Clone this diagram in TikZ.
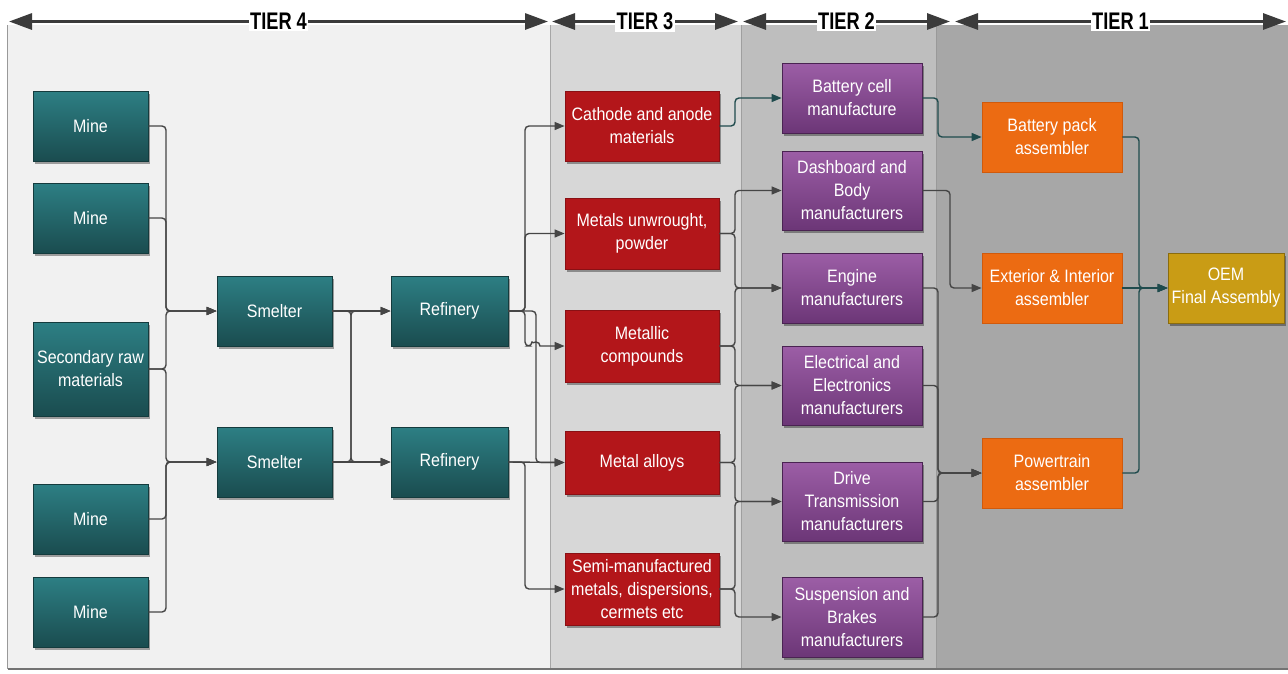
\documentclass[tikz,border=0pt]{standalone}
\usepackage{fontspec}
\setmainfont{Liberation Sans}[FakeStretch=0.89]
\newfontfamily\tierfont{Liberation Sans}[FakeStretch=0.76]
\usetikzlibrary{arrows.meta,shadows,calc}
\definecolor{tealT}{HTML}{2D7F84}
\definecolor{tealB}{HTML}{1A4C4F}
\definecolor{tealD}{HTML}{143B3D}
\definecolor{redF}{HTML}{B3161A}
\definecolor{redD}{HTML}{8A1014}
\definecolor{purT}{HTML}{9C5EA6}
\definecolor{purB}{HTML}{6C3677}
\definecolor{purD}{HTML}{4A2352}
\definecolor{orF}{HTML}{EC6B12}
\definecolor{orD}{HTML}{D05A0C}
\definecolor{goldF}{HTML}{C99C15}
\definecolor{goldD}{HTML}{8B6C0D}
\definecolor{lineG}{HTML}{454545}
\definecolor{lineT}{HTML}{1F4B4D}
\definecolor{arrG}{HTML}{3B3B3B}
\definecolor{pan4}{HTML}{F1F1F1}
\definecolor{pan3}{HTML}{D7D7D7}
\definecolor{pan2}{HTML}{BEBEBE}
\definecolor{pan1}{HTML}{A7A7A7}
\newcommand\boxfont{\fontsize{18}{23}\selectfont}
\tikzset{
  blk/.style={rectangle, inner sep=2pt, align=center, text=white, font=\boxfont, line width=0.8pt},
  shad/.style={drop shadow={shadow xshift=1.5pt, shadow yshift=-2.5pt, opacity=0.35, fill=black}},
  tealbox/.style={blk, shad, draw=tealD, top color=tealT, bottom color=tealB, minimum width=115, minimum height=70},
  redbox/.style={blk, shad, draw=redD, fill=redF, minimum width=154, minimum height=70},
  purbox/.style={blk, shad, draw=purD, top color=purT, bottom color=purB, minimum width=140, minimum height=79},
  orbox/.style={blk, draw=orD, fill=orF, minimum width=140, minimum height=70},
  goldbox/.style={blk, shad, draw=goldD, fill=goldF, minimum width=116, minimum height=70},
  conn/.style={draw=lineG, line width=1.4pt, rounded corners=4pt},
  arr/.style={conn, -{Triangle[length=10pt,width=8pt]}},
  tconn/.style={conn, draw=lineT},
  tarr/.style={arr, draw=lineT, -{Triangle[length=10pt,width=8pt,fill=lineT]}},
  tierarr/.style={draw=arrG, line width=3pt, {Triangle[length=23pt,width=16pt]}-{Triangle[length=23pt,width=16pt]}},
  tierlbl/.style={fill=white, inner sep=1.5pt, text=black, font={\tierfont\bfseries\fontsize{24}{26}\selectfont}}
}
\begin{document}
\begin{tikzpicture}[x=1pt,y=-1pt]
\useasboundingbox (0,0) rectangle (1288,673);
\fill[white] (0,0) rectangle (1288,673);
% panels
\fill[pan4] (8,25) rectangle (550,669);
\fill[pan3] (550,25) rectangle (741,669);
\fill[pan2] (741,25) rectangle (936,669);
\fill[pan1] (936,25) rectangle (1288,669);
\draw[gray!80, line width=1.5pt] (7.5,25) -- (7.5,669);
\draw[gray!70, line width=0.8pt] (550,25) -- (550,669);
\draw[gray!75, line width=0.8pt] (741,25) -- (741,669);
\draw[gray!80, line width=0.8pt] (936,25) -- (936,669);
\draw[gray!90!black, line width=2pt] (8,669) -- (1288,669);

% tier arrows
\coordinate (t4l) at (9,21.5);   \coordinate (t4r) at (548,21.5);
\coordinate (t3l) at (552,21.5); \coordinate (t3r) at (738,21.5);
\coordinate (t2l) at (743,21.5); \coordinate (t2r) at (950,21.5);
\coordinate (t1l) at (955,21.5); \coordinate (t1r) at (1286,21.5);
\draw[tierarr] (t4l) -- (t4r) node[midway, tierlbl] (l4) {TIER 4};
\draw[tierarr] (t3l) -- (t3r) node[midway, tierlbl] (l3) {TIER 3};
\draw[tierarr] (t2l) -- (t2r) node[midway, tierlbl] (l2) {TIER 2};
\draw[tierarr] (t1l) -- (t1r) node[midway, tierlbl] (l1) {TIER 1};

% tier 4
\node[tealbox] (m1) at (90.5,126) {Mine};
\node[tealbox] (m2) at (90.5,218) {Mine};
\node[tealbox, minimum height=94] (sec) at (90.5,369) {Secondary raw\\materials};
\node[tealbox] (m3) at (90.5,519) {Mine};
\node[tealbox] (m4) at (90.5,612) {Mine};
\node[tealbox] (s1) at (274.5,311) {Smelter};
\node[tealbox] (s2) at (274.5,462) {Smelter};
\node[tealbox, minimum width=117] (r1) at (449.5,311) {Refinery};
\node[tealbox, minimum width=117] (r2) at (449.5,462) {Refinery};

% tier 3
\node[redbox] (cat) at (642,126) {Cathode and anode\\materials};
\node[redbox, minimum height=71] (unw) at (642,233.5) {Metals unwrought,\\powder};
\node[redbox, minimum height=72] (mc) at (642,346) {Metallic\\compounds};
\node[redbox, minimum height=63] (al) at (642,462.5) {Metal alloys};
\node[redbox, minimum height=72] (semi) at (642,589) {Semi-manufactured\\metals, dispersions,\\cermets etc};

% tier 2
\node[purbox, minimum height=70] (bcell) at (852,98) {Battery cell\\manufacture};
\node[purbox] (dash) at (852,190.5) {Dashboard and\\Body\\manufacturers};
\node[purbox, minimum height=70] (eng) at (852,288) {Engine\\manufacturers};
\node[purbox] (elec) at (852,385.5) {Electrical and\\Electronics\\manufacturers};
\node[purbox] (drive) at (852,501.5) {Drive\\Transmission\\manufacturers};
\node[purbox, minimum height=80] (susp) at (852,617) {Suspension and\\Brakes\\manufacturers};

% tier 1
\node[orbox] (bpack) at (1052,137) {Battery pack\\assembler};
\node[orbox] (ext) at (1052,288) {Exterior \& Interior\\assembler};
\node[orbox] (power) at (1052,473) {Powertrain\\assembler};
\node[goldbox] (oem) at (1226,288) {OEM\\Final Assembly};

% bus coordinates
\coordinate (b4x) at (166,0);
\coordinate (b5x) at (351,0);
\coordinate (b6x) at (525,0);
\coordinate (b7x) at (536,0);
\coordinate (b8x) at (735,0);
\coordinate (b9x) at (938,0);
\coordinate (b9y) at (950,0);
\coordinate (b10x) at (1139,0);

% tier 4 connectors
\draw[arr] (m1.east) -| (s1.west -| b4x) -- (s1.west);
\draw[arr] (m2.east) -| (s1.west -| b4x) -- (s1.west);
\draw[arr] (sec.east) -| (s1.west -| b4x) -- (s1.west);
\draw[arr] (sec.east) -| (s2.west -| b4x) -- (s2.west);
\draw[arr] (m3.east) -| (s2.west -| b4x) -- (s2.west);
\draw[arr] (m4.east) -| (s2.west -| b4x) -- (s2.west);

\draw[arr] (s1.east) -- (r1.west);
\draw[arr] (s1.east) -| (r2.west -| b5x) -- (r2.west);
\draw[arr] (s2.east) -- (r2.west);
\draw[arr] (s2.east) -| (r1.west -| b5x) -- (r1.west);

% refinery outputs
\draw[arr] (r1.east) -| (cat.west -| b6x) -- (cat.west);
\draw[arr] (r1.east) -| (unw.west -| b6x) -- (unw.west);
\draw[arr] (r1.east) -| (al.west -| b7x) -- (al.west);
\draw[arr] (r1.east) -| (mc.west -| b6x) -- ($(mc.west -| b7x)+(-4,0)$) [sharp corners] arc[start angle=180, end angle=360, radius=4] -- (mc.west);
\draw[arr] (r2.east) -- (al.west);
\draw[arr] (r2.east) -| (semi.west -| b6x) -- (semi.west);

% tier 3 -> tier 2
\draw[tarr] (cat.east) -| (bcell.west -| b8x) -- (bcell.west);
\draw[arr] (unw.east) -| (dash.west -| b8x) -- (dash.west);
\draw[arr] (unw.east) -| (eng.west -| b8x) -- (eng.west);
\draw[arr] (mc.east) -| (eng.west -| b8x) -- (eng.west);
\draw[arr] (mc.east) -| (elec.west -| b8x) -- (elec.west);
\draw[arr] (al.east) -| (elec.west -| b8x) -- (elec.west);
\draw[arr] (al.east) -| (drive.west -| b8x) -- (drive.west);
\draw[arr] (semi.east) -| (drive.west -| b8x) -- (drive.west);
\draw[arr] (semi.east) -| (susp.west -| b8x) -- (susp.west);

% tier 2 -> tier 1
\draw[tarr] (bcell.east) -| (bpack.west -| b9x) -- (bpack.west);
\draw[arr] (dash.east) -| (ext.west -| b9y) -- (ext.west);
\draw[arr] (eng.east) -| (power.west -| b9x) -- (power.west);
\draw[arr] (elec.east) -| (power.west -| b9x) -- (power.west);
\draw[arr] (drive.east) -| (power.west -| b9x) -- (power.west);
\draw[arr] (susp.east) -| (power.west -| b9x) -- (power.west);

% tier 1 -> OEM
\draw[tarr] (bpack.east) -| (oem.west -| b10x) -- (oem.west);
\draw[tarr] (ext.east) -- (oem.west);
\draw[tarr] (power.east) -| (oem.west -| b10x) -- (oem.west);
\end{tikzpicture}
\end{document}
